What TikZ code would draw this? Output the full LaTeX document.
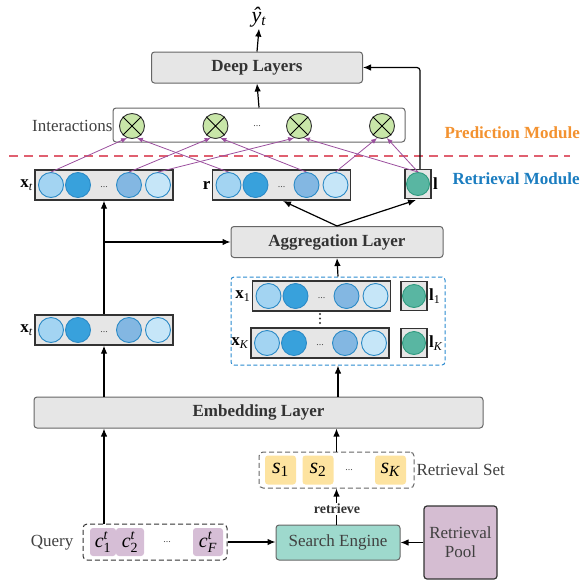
\documentclass[tikz,border=0pt]{standalone}
\usepackage{amsmath}
\usepackage{fontspec}
\setmainfont{Liberation Serif}
\usetikzlibrary{arrows.meta,calc}
\definecolor{cA}{HTML}{A3D4F2}
\definecolor{cBb}{HTML}{38A1DC}
\definecolor{cC}{HTML}{83B7E2}
\definecolor{cD}{HTML}{C6E6F8}
\definecolor{cEdge}{HTML}{2B8AC6}
\definecolor{gFill}{HTML}{59B6A2}
\definecolor{gEdge}{HTML}{2E9A7E}
\definecolor{oFill}{HTML}{C8E6A8}
\definecolor{pArr}{HTML}{9B4F9E}
\definecolor{seFill}{HTML}{9ED9CD}
\definecolor{rpFill}{HTML}{D5BDD2}
\definecolor{cqFill}{HTML}{D6BED6}
\definecolor{sFill}{HTML}{FDE3A0}
\definecolor{dBlue}{HTML}{2A8AD0}
\definecolor{rDash}{HTML}{E06070}
\definecolor{oText}{HTML}{F39230}
\definecolor{bText}{HTML}{1B7DC0}
\definecolor{boxFill}{HTML}{E6E6E6}
\newcommand\vrow[2]{%
  \node[rowbox] (#1) at (#2) {};
  \node[bc,fill=cA]  (#1-1) at ([xshift=-53pt]#1.center) {};
  \node[bc,fill=cBb] (#1-2) at ([xshift=-26pt]#1.center) {};
  \node[bc,fill=cC]  (#1-3) at ([xshift=25pt]#1.center) {};
  \node[bc,fill=cD]  (#1-4) at ([xshift=54pt]#1.center) {};
  \node[rdots] at ([yshift=-2pt]#1.center) {...};
}
\newcommand\vx[1]{\textbf{x}\textsubscript{#1}}
\newcommand\vl[1]{\textbf{l}\textsubscript{#1}}
\newcommand\cq[1]{$\textit{c}^{\textit{t}}_{\text{#1}}$}
\begin{document}
\begin{tikzpicture}[x=1pt,y=-1pt,line width=1.2pt,
  >={Latex[length=8pt,width=6.5pt]},
  big/.style={font=\fontsize{17}{19}\selectfont},
  gbox/.style={draw=black!60, fill=boxFill, rounded corners=3pt, line width=1pt,
    font=\fontsize{17}{19}\selectfont\bfseries, text=black!80, inner sep=0},
  rowbox/.style={draw=black!80, fill=boxFill, line width=1.2pt, minimum width=138pt, minimum height=30pt, inner sep=0},
  lbox/.style={draw=black!80, fill=boxFill, line width=1.2pt, minimum width=26pt, minimum height=29pt, inner sep=0},
  bc/.style={circle, draw=cEdge, line width=0.9pt, minimum size=25pt, inner sep=0},
  gc/.style={circle, draw=gEdge, fill=gFill, line width=0.9pt, minimum size=23pt, inner sep=0},
  otm/.style={circle, draw=black!80, fill=oFill, line width=0.9pt, minimum size=25pt, inner sep=0},
  rdots/.style={font=\fontsize{10}{10}\selectfont, text=black!70},
  parr/.style={draw=pArr, line width=0.8pt, -{Latex[length=6pt,width=5pt]}},
  lab/.style={font=\fontsize{17}{19}\selectfont, inner sep=1pt},
  smallbox/.style={rounded corners=3pt, inner sep=0, minimum height=29pt},
]
\useasboundingbox (0,0) rectangle (579,581);

% ---------------- Prediction part
\node[gbox, minimum width=211pt, minimum height=31pt] (deep) at (257,67.5) {Deep Layers};
\node[font=\fontsize{22}{22}\selectfont, inner sep=1pt] (yhat) at (259,17) {\textit{ŷ}\textsubscript{\textit{t}}};
\draw[->] (deep.north) -- (yhat.south);

\node[draw=black!60, fill=white, rounded corners=3pt, line width=1pt, minimum width=292pt, minimum height=34pt] (inter) at (259,125) {};
\node[big, text=black!75, anchor=east, inner sep=0] (intlab) at (113,126) {Interactions};
\foreach \i/\x in {1/132,2/215.5,3/299,4/382}{
  \node[otm] (o\i) at (\x,126) {};
  \draw[line width=0.9pt] (o\i.45) -- (o\i.225) (o\i.135) -- (o\i.-45);
}
\node[rdots] at (257,126) {...};
\draw[->] (inter.north) -- (deep.south);

\node[font=\fontsize{17}{19}\selectfont\bfseries, text=oText, anchor=west, inner sep=0] (pm) at (444,133) {Prediction Module};
\draw[rDash, line width=1.2pt, dash pattern=on 9pt off 6pt] (9,156) -- (570,156);
\node[font=\fontsize{17}{19}\selectfont\bfseries, text=bText, anchor=west, inner sep=0] (rm) at (452,179) {Retrieval Module};

% ---------------- top rows
\vrow{xt}{104,185}
\vrow{rr}{281.5,185}
\node[lbox] (lb) at (418,184) {};
\node[gc] (lc) at (418,184) {};
\node[lab, anchor=east] at (xt.west) {\vx{\textit{t}}};
\node[lab, anchor=east] at (rr.west) {\textbf{r}};
\node[lab, anchor=west] at (lb.east) {\textbf{l}};

% purple interaction arrows
\draw[parr] (xt-1.north) -- (o1.-112);
\draw[parr] (rr-1.north) -- (o1.-68);
\draw[parr] (xt-3.north) -- (o2.-112);
\draw[parr] (rr-3.north) -- (o2.-68);
\draw[parr] (xt-4.north) -- (o3.-112);
\draw[parr] (lc.north) -- (o3.-68);
\draw[parr] (rr-4.north) -- (o4.-112);
\draw[parr] (lc.north) -- (o4.-68);

% l to deep layers
\draw[->, rounded corners=3pt] ([xshift=2pt]lb.north) |- (deep.east);

% ---------------- aggregation
\node[gbox, minimum width=212pt, minimum height=31pt] (agg) at (337,242) {Aggregation Layer};
\coordinate (rbot) at (283,201);
\coordinate (lbot) at (416,200);
\draw[->] (agg.north) -- (rbot);
\draw[->] (agg.north) -- (lbot);

% lower x_t
\vrow{xtl}{104,330}
\node[lab, anchor=east] at (xtl.west) {\vx{\textit{t}}};
\draw[->] (xtl.north) -- (xt.south);
\coordinate (br) at (104,242);
\draw[->] (br) -- (agg.west);

% retrieved rows
\node[draw=dBlue, line width=1pt, dash pattern=on 4pt off 2.5pt, rounded corners=3pt, minimum width=214pt, minimum height=88pt] (rbox) at (338,321) {};
\vrow{x1}{321.5,296}
\vrow{xK}{320,343}
\node[lbox] (l1) at (414,296) {};
\node[gc] at (414,296) {};
\node[lbox] (lK) at (414,343) {};
\node[gc] at (414,343) {};
\node[lab, anchor=east] at (x1.west) {\vx{1}};
\node[lab, anchor=east] at (xK.west) {\vx{\textit{K}}};
\node[lab, anchor=west] at (l1.east) {\vl{1}};
\node[lab, anchor=west] at (lK.east) {\vl{\textit{K}}};
\foreach \yy in {314,318.5,323}{\fill[black!80] (320,\yy) circle (1.1pt);}
\draw[->] (rbox.north) -- (agg.south);

% ---------------- embedding
\node[gbox, minimum width=449pt, minimum height=31pt] (emb) at (258.5,412.5) {Embedding Layer};
\draw[->] (emb.north -| xtl) -- (xtl.south);
\draw[->] (emb.north -| rbox) -- (rbox.south);

% retrieval set
\node[draw=black!60, line width=1pt, dash pattern=on 5pt off 3pt, rounded corners=4pt, minimum width=155pt, minimum height=36pt] (rset) at (336.5,470) {};
\node[smallbox, fill=sFill, minimum width=31pt, font=\fontsize{22}{22}\selectfont] (s1) at (280.5,470) {\textit{s}\textsubscript{1}};
\node[smallbox, fill=sFill, minimum width=31pt, font=\fontsize{22}{22}\selectfont] (s2) at (318,470) {\textit{s}\textsubscript{2}};
\node[rdots] at (349,470) {...};
\node[smallbox, fill=sFill, minimum width=31pt, font=\fontsize{22}{22}\selectfont] (sK) at (390.5,470) {\textit{s}\textsubscript{\textit{K}}};
\node[big, text=black!75, anchor=west, inner sep=0] at (416,470) {Retrieval Set};
\draw[->] (rset.north) -- (emb.south -| rset);

% search engine & pool
\node[draw=black!60, fill=seFill, rounded corners=3pt, line width=1pt, minimum width=124pt, minimum height=35pt, big, text=black!75] (se) at (338,542.5) {Search Engine};
\node[draw=black!80, fill=rpFill, rounded corners=3pt, line width=1.2pt, minimum width=73pt, minimum height=73pt, big, text=black!75, align=center] (rp) at (460.5,542.5) {Retrieval\\Pool};
\draw[->] (rp.west) -- (rp.west -| se.east);
\draw[->] (se.north -| rset) -- (rset.south);
\node[fill=white, inner sep=1pt, font=\fontsize{14}{14}\selectfont\bfseries, text=black!80] at (337,509) {retrieve};

% query
\node[draw=black!80, line width=1pt, dash pattern=on 5pt off 3pt, rounded corners=4pt, minimum width=144pt, minimum height=36pt] (q) at (155,542) {};
\node[smallbox, fill=cqFill, minimum width=26pt, minimum height=28pt, font=\fontsize{20}{20}\selectfont] (c1) at (103,542) {\cq{1}};
\node[smallbox, fill=cqFill, minimum width=28pt, minimum height=28pt, font=\fontsize{20}{20}\selectfont] (c2) at (130,542) {\cq{2}};
\node[rdots] at (167,542) {...};
\node[smallbox, fill=cqFill, minimum width=30pt, minimum height=28pt, font=\fontsize{20}{20}\selectfont] (cF) at (208,542) {\cq{\textit{F}}};
\node[big, text=black!75, anchor=east, inner sep=0] at (74,543) {Query};
\draw[->] (q.east) -- (q.east -| se.west);
\draw[->] (q.north -| xtl) -- (emb.south -| xtl);
\end{tikzpicture}
\end{document}
